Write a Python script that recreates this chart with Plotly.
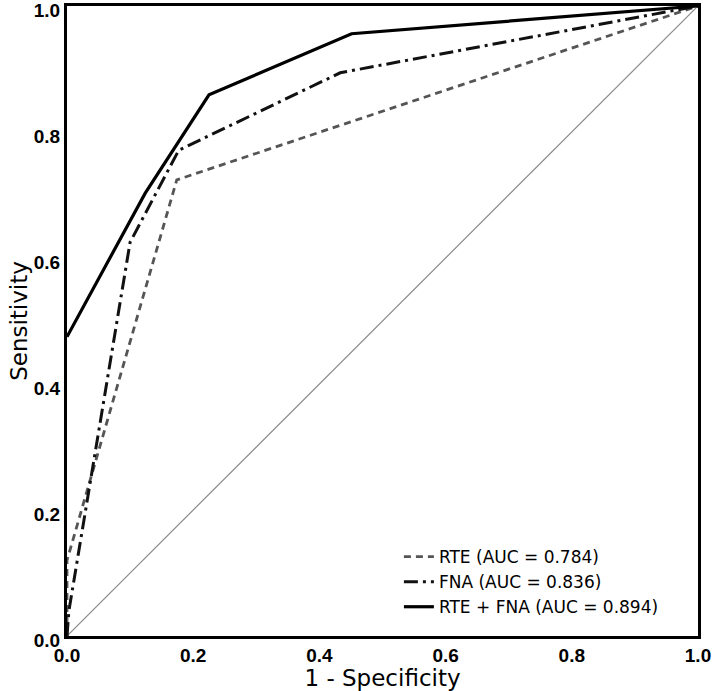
import plotly.graph_objects as go

# ROC curve data (1 - specificity, sensitivity)
rte_fpr = [0.0, 0.0, 0.174, 1.0]
rte_sens = [0.0, 0.12, 0.724, 1.0]

fna_fpr = [0.0, 0.003, 0.100, 0.177, 0.433, 1.0]
fna_sens = [0.0, 0.04, 0.625, 0.771, 0.894, 1.0]

comb_fpr = [0.0, 0.124, 0.225, 0.451, 1.0]
comb_sens = [0.475, 0.703, 0.859, 0.956, 1.0]

ref_line = [0.0, 1.0]

names = ["RTE (AUC = 0.784)", "FNA (AUC = 0.836)", "RTE + FNA (AUC = 0.894)"]
tick_vals = [0.0, 0.2, 0.4, 0.6, 0.8, 1.0]
tick_text = ["0.0", "0.2", "0.4", "0.6", "0.8", "1.0"]

fig = go.Figure()

fig.add_trace(go.Scatter(x=ref_line, y=ref_line, mode="lines",
                         line=dict(color="#8a8a8a", width=1.2),
                         showlegend=False, hoverinfo="skip"))
fig.add_trace(go.Scatter(x=rte_fpr, y=rte_sens, mode="lines", name=names[0],
                         line=dict(color="#555555", width=2.8, dash="7px,5px")))
fig.add_trace(go.Scatter(x=fna_fpr, y=fna_sens, mode="lines", name=names[1],
                         line=dict(color="#111111", width=3, dash="14px,5px,3px,5px")))
fig.add_trace(go.Scatter(x=comb_fpr, y=comb_sens, mode="lines", name=names[2],
                         line=dict(color="#000000", width=3.2)))

tickfont = dict(family="Liberation Sans", size=19, color="black", weight="bold")

fig.update_layout(
    width=714, height=691,
    margin=dict(l=67, r=16, t=6, b=55),
    plot_bgcolor="white", paper_bgcolor="white",
    font=dict(family="DejaVu Sans", color="black"),
    legend=dict(x=0.526, y=0.154, xanchor="left", yanchor="top",
                bgcolor="rgba(0,0,0,0)", borderwidth=0,
                font=dict(family="DejaVu Sans", size=17, color="black"),
                tracegroupgap=0),
    xaxis=dict(range=[0, 1], tickvals=tick_vals, ticktext=tick_text,
               showgrid=False, zeroline=False, showline=True, linecolor="black",
               linewidth=3, mirror=True, ticks="", automargin=False,
               ticklabeloverflow="allow", tickfont=tickfont,
               title=dict(text="1 - Specificity", font=dict(family="DejaVu Sans", size=23),
                          standoff=0)),
    yaxis=dict(range=[0, 1], tickvals=tick_vals, ticktext=tick_text,
               showgrid=False, zeroline=False, showline=True, linecolor="black",
               linewidth=3, mirror=True, ticks="", automargin=False,
               ticklabeloverflow="allow", ticklabelshift=4, tickfont=tickfont,
               title=dict(text="Sensitivity", font=dict(family="DejaVu Sans", size=23),
                          standoff=0)),
)

fig.write_html("out.html", config={"displayModeBar": False},
               post_script="document.body.style.margin='0';document.body.style.padding='0';")
